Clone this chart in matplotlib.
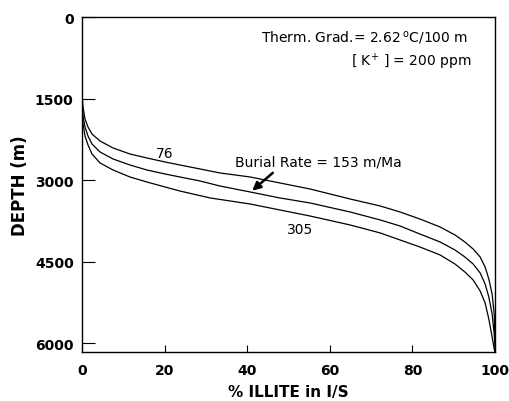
import matplotlib
matplotlib.use("Agg")
import matplotlib.pyplot as plt

# % illite (x) and depth in m (y)
illite_76 = [0, 0, 0.24, 0.73, 1.45, 2.42, 4.36, 7.51, 11.6, 15.7, 20.1, 23.7, 28.6, 33.4, 40.7, 47.9, 55.2,
             64.9, 72.2, 77.0, 81.8, 86.7, 90.3, 92.7, 94.7, 96.4, 97.6, 98.5, 99.3, 99.8, 100]
depth_76 = [1196, 1417, 1656, 1877, 2024, 2153, 2282, 2410, 2521, 2594, 2668, 2723, 2797, 2870, 2944, 3054, 3165,
            3349, 3478, 3588, 3717, 3864, 4011, 4140, 4269, 4416, 4600, 4821, 5097, 5465, 5925]

illite_153 = [0, 0, 0.24, 0.73, 1.45, 2.42, 4.36, 7.51, 11.6, 15.7, 20.1, 23.7, 28.6, 33.4, 40.7, 47.9, 55.2,
              64.9, 72.2, 77.0, 81.8, 86.7, 90.3, 92.7, 94.7, 96.4, 97.6, 98.5, 99.3, 99.8, 100]
depth_153 = [1325, 1546, 1822, 2024, 2190, 2337, 2484, 2613, 2723, 2815, 2889, 2944, 3018, 3110, 3220, 3330, 3422,
             3588, 3735, 3846, 3993, 4140, 4287, 4416, 4545, 4710, 4913, 5152, 5465, 5833, 6109]

illite_305 = [0, 0, 0.24, 0.73, 1.45, 2.42, 4.36, 7.51, 11.6, 15.7, 20.1, 23.7, 31.0, 40.7, 47.9, 55.2,
              64.9, 72.2, 77.0, 81.8, 86.7, 90.3, 92.7, 94.7, 96.4, 97.6, 98.5, 99.3, 99.8, 100]
depth_305 = [1417, 1656, 1969, 2190, 2355, 2521, 2686, 2815, 2944, 3036, 3128, 3202, 3330, 3441, 3551, 3662,
             3827, 3974, 4103, 4232, 4379, 4545, 4692, 4839, 5042, 5262, 5557, 5888, 6109, 6165]

x_ticks = [0, 20, 40, 60, 80, 100]
y_ticks = [0, 1500, 3000, 4500, 6000]

plt.rcParams['font.family'] = ['DejaVu Sans']

fig = plt.figure(figsize=(5.10, 4.02), dpi=100)
ax = fig.add_axes([0.1608, 0.1219, 0.9706 - 0.1608, 0.9552 - 0.1219])

for xs, ys in [(illite_76, depth_76), (illite_153, depth_153), (illite_305, depth_305)]:
    ax.plot(xs, ys, color='black', lw=0.9)

ax.set_xlim(0, 100)
ax.set_ylim(6165, 0)
ax.set_xticks(x_ticks)
ax.set_yticks(y_ticks)
ax.tick_params(axis='y', direction='in', length=9, width=0.8, labelsize=10, pad=6)
ax.tick_params(axis='x', direction='in', length=5, width=0.8, labelsize=10, pad=8)
for lab in ax.get_xticklabels() + ax.get_yticklabels():
    lab.set_fontweight('bold')
for s in ax.spines.values():
    s.set_linewidth(1.0)

ax.set_xlabel('% ILLITE in I/S', fontsize=11, fontweight='bold', labelpad=5)
ax.set_ylabel('DEPTH (m)', fontsize=12, fontweight='bold', labelpad=4)

ax.text(93.5, 350, 'Therm. Grad.= 2.62$\\,^{\\mathsf{o}}$C/100 m', ha='right', va='center', fontsize=10)
ax.text(94.4, 810, '[ K$^{\\mathsf{+}}$ ] = 200 ppm', ha='right', va='center', fontsize=10)
ax.text(37.0, 2650, 'Burial Rate = 153 m/Ma', ha='left', va='center', fontsize=10)
ax.text(20.1, 2500, '76', ha='center', va='center', fontsize=10)
ax.text(52.8, 3900, '305', ha='center', va='center', fontsize=10)
ax.annotate('', xy=(40.7, 3230), xytext=(46.7, 2834),
            arrowprops=dict(arrowstyle='-|>', color='black', lw=1.8, mutation_scale=12))

fig.savefig('out.png', dpi=100)
